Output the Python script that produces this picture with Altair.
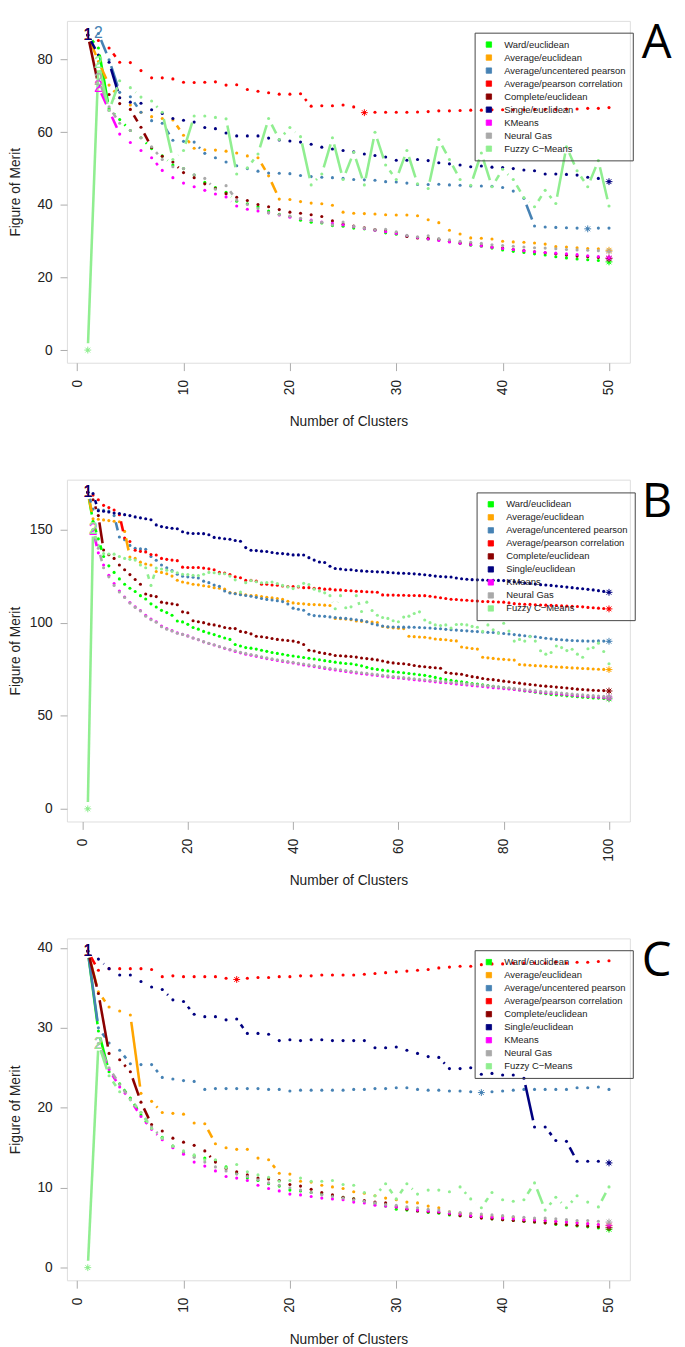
import altair as alt
import pandas as pd

SERIES = ["Ward/euclidean", "Average/euclidean", "Average/uncentered pearson",
          "Average/pearson correlation", "Complete/euclidean", "Single/euclidean",
          "KMeans", "Neural Gas", "Fuzzy C\u2212Means"]
COLORS = ["#00FF00", "#FFA500", "#4682B4", "#FF0000", "#8B0000", "#000080",
          "#FF00FF", "#A9A9A9", "#90EE90"]

# ---------------- Panel A (1..50 clusters) ----------------
A_WARD = [86.8, 83.2, 66.5, 63.5, 60.5, 58.5, 55.5, 53.5, 51.0, 50.0,
          48.2, 46.2, 44.8, 43.5, 41.0, 40.3, 39.5, 38.3, 37.4, 36.8,
          35.8, 35.2, 35.0, 34.3, 34.1, 33.6, 33.4, 33.0, 32.3, 31.9,
          31.4, 31.0, 30.6, 30.3, 29.9, 29.4, 28.9, 28.6, 28.1, 27.6,
          27.2, 26.9, 26.5, 26.2, 25.7, 25.4, 25.1, 24.9, 24.7, 24.3]
A_AVGEUC = [86.8, 79.5, 73.0, 69.5, 67.5, 65.5, 64.3, 63.8, 63.4, 59.2,
            55.6, 55.2, 55.1, 54.8, 54.3, 53.5, 53.0, 48.0, 41.6, 41.5,
            40.9, 40.5, 40.3, 39.9, 38.0, 37.7, 37.6, 37.5, 37.3, 37.2,
            37.2, 37.0, 35.9, 35.1, 33.0, 32.0, 30.9, 30.8, 30.6, 30.0,
            29.8, 29.7, 29.5, 29.2, 28.5, 28.4, 28.2, 28.0, 27.9, 27.5]
A_AVGUNC = [86.8, 87.2, 80.0, 71.0, 69.8, 65.5, 63.2, 62.5, 57.8, 57.5,
            57.3, 54.2, 53.0, 51.8, 50.8, 50.0, 49.3, 48.8, 48.7, 48.6,
            48.1, 47.8, 47.6, 47.5, 47.3, 47.0, 46.9, 46.8, 46.4, 46.3,
            46.0, 45.6, 45.6, 45.7, 45.5, 45.4, 45.2, 45.2, 45.1, 44.8,
            43.8, 41.8, 34.2, 33.9, 33.8, 33.7, 33.6, 33.4, 33.6, 33.6]
A_AVGPEAR = [86.8, 85.3, 83.2, 79.3, 79.2, 77.0, 75.0, 75.0, 74.7, 73.8,
             73.7, 73.8, 73.9, 73.0, 73.1, 71.8, 71.3, 70.9, 70.5, 70.5,
             70.6, 67.2, 67.3, 67.3, 67.5, 67.0, 65.4, 65.5, 65.5, 65.5,
             65.5, 65.6, 65.7, 65.9, 65.9, 66.0, 66.1, 66.1, 66.2, 66.2,
             66.2, 66.2, 66.3, 66.3, 66.3, 66.4, 66.4, 66.6, 66.6, 66.8]
A_COMPLETE = [86.8, 73.0, 70.4, 67.9, 66.3, 61.4, 55.8, 53.4, 51.8, 48.9,
              47.5, 45.8, 44.5, 43.1, 42.1, 41.2, 40.1, 39.5, 38.7, 38.0,
              37.7, 37.3, 36.8, 35.6, 34.7, 34.2, 33.7, 33.2, 32.8, 32.3,
              31.3, 30.9, 30.8, 30.5, 29.9, 29.5, 29.2, 28.8, 28.4, 28.1,
              27.7, 27.4, 27.1, 26.8, 26.5, 26.2, 25.9, 25.7, 25.5, 25.2]
A_SINGLE = [86.8, 81.3, 79.3, 69.5, 68.3, 68.0, 66.2, 65.2, 63.8, 63.3,
            62.8, 61.3, 61.0, 59.8, 59.0, 59.0, 59.0, 58.4, 57.9, 57.6,
            57.3, 56.7, 55.9, 55.4, 55.0, 54.6, 54.0, 53.6, 53.2, 52.3,
            52.3, 52.5, 52.2, 51.6, 51.3, 51.0, 50.5, 50.7, 50.4, 50.3,
            50.0, 49.6, 49.4, 48.5, 48.5, 48.4, 48.2, 47.6, 47.3, 46.4]
A_KMEANS = [None, 72.5, 66.0, 59.5, 57.2, 55.0, 53.0, 49.5, 47.5, 46.0,
            45.0, 44.0, 43.0, 42.2, 39.7, 38.8, 38.3, 37.8, 37.2, 36.6,
            36.2, 35.8, 35.3, 34.9, 34.5, 34.0, 33.5, 33.0, 32.6, 32.1,
            31.5, 31.0, 30.6, 30.2, 29.8, 29.4, 29.0, 28.7, 28.3, 28.0,
            27.7, 27.4, 27.1, 26.9, 26.7, 26.5, 26.3, 26.0, 25.8, 25.4]
A_NG = [None, 74.5, 67.0, 62.5, 60.5, 58.5, 56.0, 52.5, 50.5, 50.0,
        48.3, 47.3, 44.3, 45.3, 41.3, 40.1, 39.0, 37.8, 37.3, 36.9,
        36.3, 35.7, 35.2, 34.5, 35.3, 34.1, 33.6, 33.2, 33.3, 32.6,
        31.6, 31.2, 31.5, 30.7, 30.4, 30.0, 29.7, 29.4, 29.0, 28.8,
        28.6, 28.4, 28.2, 28.1, 27.9, 27.7, 27.6, 27.5, 27.4, 27.2]
A_FCM = [0.0, 79.0, 66.0, 74.2, 72.3, 69.7, 68.6, 65.5, 52.5, 55.0,
         64.5, 64.5, 64.1, 63.7, 48.5, 50.2, 54.0, 63.8, 58.0, 61.3,
         58.8, 45.5, 48.5, 58.5, 47.0, 54.5, 45.5, 60.0, 51.0, 47.0,
         55.0, 45.8, 44.5, 58.0, 52.5, 47.0, 45.4, 54.3, 45.0, 49.8,
         47.0, 42.0, 39.5, 44.0, 40.4, 56.0, 49.4, 45.0, 52.2, 39.7]

# ---------------- Panel B (1..100 clusters) ----------------
B_WARD = [170.0, 154.5, 145.0, 135.5, 130.5, 127.0, 123.5, 120.6, 118.5, 116.7,
          114.5, 112.7, 110.1, 108.4, 106.6, 105.4, 104.0, 100.9, 100.4, 99.1,
          97.4, 96.5, 95.3, 94.4, 93.6, 92.7, 91.8, 91.0, 88.3, 87.5,
          86.6, 86.3, 85.8, 85.2, 84.6, 84.0, 83.5, 83.0, 82.5, 82.1,
          81.7, 81.3, 80.9, 80.5, 80.1, 79.6, 79.2, 78.8, 78.4, 78.1,
          77.9, 77.4, 76.8, 76.0, 75.3, 74.9, 74.5, 74.1, 73.7, 73.4,
          73.1, 72.7, 72.4, 72.0, 71.7, 71.2, 70.6, 70.0, 69.4, 69.0,
          68.6, 68.2, 67.8, 67.3, 67.0, 66.6, 66.2, 65.8, 65.4, 65.1,
          64.7, 64.3, 63.8, 63.3, 63.0, 62.6, 62.2, 61.8, 61.4, 61.2,
          61.0, 60.7, 60.5, 60.2, 60.0, 59.8, 59.6, 59.5, 59.3, 59.1]
B_AVGEUC = [170.0, 155.8, 155.5, 155.2, 154.8, 154.5, 154.2, 149.0, 135.2, 134.5,
            132.5, 131.5, 131.0, 127.5, 127.0, 126.3, 125.0, 122.8, 121.8, 121.3,
            120.6, 120.3, 119.8, 119.4, 118.8, 118.5, 118.0, 116.2, 115.8, 115.3,
            115.0, 114.6, 114.5, 114.0, 113.6, 113.3, 113.0, 112.5, 111.5, 110.6,
            110.3, 110.1, 109.8, 109.7, 109.6, 109.4, 109.2, 102.3, 102.1, 101.9,
            101.6, 100.9, 100.7, 100.5, 100.3, 100.1, 97.9, 97.6, 97.2, 97.0,
            96.8, 92.7, 92.5, 92.3, 92.2, 91.8, 91.2, 91.0, 90.8, 90.4,
            90.2, 86.9, 86.5, 86.1, 85.8, 81.4, 81.1, 80.8, 80.5, 80.3,
            80.1, 79.9, 77.5, 77.3, 77.1, 76.9, 76.8, 76.6, 76.4, 76.2,
            76.1, 75.9, 75.7, 75.6, 75.4, 75.3, 75.1, 75.0, 74.9, 74.8]
B_AVGUNC = [170.0, 161.0, 160.6, 160.3, 159.9, 157.5, 146.0, 144.5, 141.5, 140.0,
            139.6, 139.4, 135.5, 133.5, 131.0, 129.5, 128.0, 126.0, 124.9, 124.6,
            124.4, 124.0, 122.3, 121.5, 120.2, 119.5, 117.0, 115.9, 115.5, 115.0,
            114.6, 114.2, 113.6, 113.0, 112.5, 112.2, 111.8, 111.3, 110.0, 107.8,
            107.2, 106.7, 104.5, 103.8, 103.6, 103.4, 103.1, 102.8, 102.5, 102.3,
            102.0, 101.6, 101.2, 100.5, 99.4, 98.8, 98.2, 97.8, 97.7, 97.7,
            97.6, 97.6, 97.5, 97.4, 97.3, 97.1, 96.9, 96.7, 96.4, 96.2,
            96.0, 95.8, 95.6, 95.4, 95.2, 95.0, 94.8, 94.7, 94.5, 94.2,
            93.9, 93.6, 93.3, 93.0, 92.7, 92.4, 92.0, 91.6, 91.3, 91.0,
            90.8, 90.6, 90.4, 90.3, 90.2, 90.1, 90.1, 90.2, 90.1, 90.0]
B_AVGPEAR = [170.0, 168.5, 166.0, 163.0, 161.8, 160.5, 158.0, 145.5, 143.6, 138.9,
             138.3, 138.0, 136.6, 136.3, 134.5, 134.0, 133.6, 133.3, 129.8, 129.6,
             129.6, 129.6, 129.3, 128.9, 128.4, 127.0, 126.7, 125.8, 124.6, 124.1,
             122.7, 122.7, 122.3, 120.6, 120.6, 120.2, 120.1, 119.7, 119.4, 119.4,
             119.2, 118.8, 118.8, 118.5, 118.5, 118.0, 118.0, 117.6, 117.6, 117.3,
             117.1, 116.9, 116.8, 116.6, 116.5, 116.3, 114.9, 114.8, 114.8, 114.7,
             114.7, 114.6, 114.6, 114.5, 114.5, 114.2, 113.8, 113.4, 113.0, 112.6,
             112.4, 112.2, 112.0, 111.8, 111.6, 111.4, 111.3, 111.2, 111.1, 111.0,
             110.6, 110.2, 110.0, 109.9, 109.8, 109.6, 109.5, 109.4, 109.3, 109.2,
             109.0, 108.9, 108.8, 108.7, 108.5, 108.2, 108.0, 107.8, 107.6, 107.4]
B_COMPLETE = [170.0, 166.0, 157.5, 139.0, 136.5, 134.5, 131.0, 128.4, 125.8, 123.2,
              120.6, 115.4, 114.5, 114.0, 111.0, 110.5, 110.1, 109.6, 105.8, 105.3,
              101.0, 100.5, 100.0, 99.2, 98.8, 98.2, 97.4, 97.0, 96.8, 95.3,
              94.8, 94.0, 92.7, 92.4, 92.0, 91.5, 91.0, 90.7, 90.4, 90.1,
              89.5, 88.3, 85.2, 84.8, 84.0, 83.5, 83.0, 82.4, 82.2, 82.0,
              81.8, 81.5, 81.0, 80.7, 80.4, 80.0, 79.4, 78.8, 78.4, 78.1,
              77.9, 77.5, 77.0, 76.6, 76.3, 76.0, 75.8, 75.5, 73.2, 72.8,
              72.5, 72.3, 71.6, 71.0, 70.6, 70.0, 69.6, 69.4, 69.0, 68.6,
              68.3, 67.9, 67.5, 67.1, 66.8, 66.5, 66.1, 65.9, 65.7, 65.4,
              65.2, 64.9, 64.6, 64.3, 64.1, 63.9, 63.7, 63.6, 63.5, 63.3]
B_SINGLE = [170.0, 169.3, 160.1, 159.8, 159.4, 158.9, 158.6, 158.0, 157.5, 156.8,
            156.3, 155.8, 155.3, 152.5, 151.6, 151.1, 150.7, 150.4, 148.8, 148.1,
            147.9, 147.9, 147.8, 147.2, 145.8, 145.5, 145.1, 144.8, 144.1, 143.7,
            140.3, 138.9, 138.7, 138.4, 138.2, 137.7, 137.3, 137.1, 136.8, 136.4,
            136.4, 136.3, 134.9, 133.6, 132.6, 132.3, 130.3, 129.1, 128.8, 128.4,
            128.4, 128.0, 127.8, 127.6, 127.5, 127.3, 127.2, 127.0, 126.8, 126.6,
            126.5, 126.4, 126.2, 126.0, 125.7, 125.4, 125.0, 124.8, 124.6, 124.5,
            124.0, 123.6, 123.3, 123.1, 123.0, 122.9, 122.8, 122.8, 122.7, 122.6,
            122.3, 122.0, 121.7, 121.3, 121.0, 120.7, 120.4, 120.2, 120.0, 119.7,
            119.4, 119.1, 118.8, 118.5, 118.2, 117.9, 117.6, 117.2, 116.8, 116.3]
B_KMEANS = [None, 149.6, 137.5, 131.0, 125.5, 121.0, 117.0, 113.8, 110.8, 108.5,
            106.5, 104.0, 102.0, 100.5, 98.2, 96.8, 95.7, 94.5, 93.8, 92.9,
            91.8, 90.8, 89.7, 88.8, 88.0, 87.1, 86.2, 85.4, 84.5, 83.8,
            83.1, 82.5, 81.9, 81.3, 80.7, 80.2, 79.7, 79.2, 78.8, 78.3,
            77.8, 77.3, 76.8, 76.4, 75.9, 75.4, 75.0, 74.6, 74.2, 73.8,
            73.4, 73.0, 72.6, 72.3, 71.9, 71.6, 71.2, 70.9, 70.6, 70.3,
            70.0, 69.7, 69.4, 69.1, 68.8, 68.5, 68.2, 67.9, 67.7, 67.4,
            67.1, 66.8, 66.5, 66.2, 66.0, 65.7, 65.4, 65.1, 64.9, 64.6,
            64.4, 64.1, 63.8, 63.5, 63.2, 62.9, 62.6, 62.3, 62.1, 61.8,
            61.6, 61.3, 61.1, 60.8, 60.6, 60.4, 60.2, 60.0, 59.8, 59.6]
B_NG = [None, 150.0, 140.0, 129.5, 124.6, 120.0, 116.5, 113.5, 110.5, 108.2,
        106.3, 103.5, 101.6, 100.2, 97.8, 96.5, 95.5, 94.3, 93.7, 92.8,
        91.8, 90.9, 89.8, 88.9, 88.1, 87.2, 86.4, 85.6, 84.9, 84.1,
        83.5, 82.9, 82.3, 81.7, 81.1, 80.6, 80.1, 79.6, 79.1, 78.7,
        78.2, 77.8, 77.3, 76.9, 76.4, 76.0, 75.5, 75.1, 74.7, 74.3,
        73.9, 73.5, 73.1, 72.8, 72.4, 72.1, 71.7, 71.4, 71.1, 70.8,
        70.5, 70.2, 69.9, 69.6, 69.3, 69.1, 68.8, 68.5, 68.3, 68.0,
        67.7, 67.4, 67.1, 66.9, 66.6, 66.3, 66.1, 65.8, 65.5, 65.2,
        65.0, 64.7, 64.4, 64.1, 63.8, 63.5, 63.2, 62.9, 62.7, 62.4,
        62.2, 61.9, 61.7, 61.4, 61.2, 61.0, 60.8, 60.6, 60.4, 60.2]
B_FCM = [0.0, 150.0, 141.5, 137.1, 136.9, 136.8, 135.5, 134.5, 134.0, 133.6,
         131.0, 129.5, 120.0, 129.3, 128.8, 128.2, 127.5, 126.8, 126.0, 125.8,
         125.5, 125.3, 126.0, 127.0, 126.8, 126.3, 126.3, 125.0, 123.0, 116.5,
         121.5, 122.6, 122.0, 121.4, 121.6, 121.8, 121.0, 120.0, 119.2, 118.3,
         119.5, 121.1, 120.5, 118.0, 117.0, 116.0, 114.5, 107.5, 114.5, 108.0,
         108.5, 114.5, 106.0, 111.0, 106.5, 104.0, 102.8, 102.3, 101.0, 100.5,
         103.0, 103.5, 104.9, 105.8, 101.4, 100.0, 98.8, 98.5, 98.8, 97.1,
         99.0, 99.1, 98.8, 98.0, 97.5, 95.3, 98.8, 96.2, 94.4, 99.7,
         95.5, 90.1, 91.0, 90.1, 92.5, 90.1, 84.9, 83.1, 84.0, 87.5,
         86.6, 85.0, 85.7, 83.1, 81.4, 86.0, 86.6, 89.0, 84.5, 77.9]

# ---------------- Panel C (1..50 clusters) ----------------
C_WARD = [39.6, 29.6, 24.5, 23.0, 21.2, 19.1, 17.4, 16.3, 15.2, 14.4,
          14.0, 13.7, 13.4, 12.6, 11.8, 11.2, 10.9, 10.5, 10.2, 9.7,
          9.6, 9.4, 9.2, 9.0, 8.8, 8.6, 8.3, 8.0, 7.7, 7.3,
          7.2, 7.1, 6.9, 6.8, 6.6, 6.5, 6.4, 6.3, 6.1, 6.0,
          5.9, 5.8, 5.7, 5.6, 5.4, 5.3, 5.2, 5.1, 4.95, 4.8]
C_AVGEUC = [39.6, 34.5, 32.6, 32.1, 31.6, 21.8, 20.8, 19.4, 19.3, 19.2,
            18.1, 18.0, 15.5, 15.0, 14.8, 14.8, 13.7, 13.5, 11.8, 11.7,
            10.8, 10.7, 10.3, 10.1, 9.9, 9.5, 9.3, 9.0, 8.7, 8.5,
            8.2, 8.1, 7.7, 7.5, 7.0, 6.8, 6.7, 6.5, 6.4, 6.4,
            6.3, 6.0, 6.0, 5.9, 5.8, 5.7, 5.6, 5.5, 5.4, 5.25]
C_AVGUNC = [39.6, 30.0, 28.1, 27.2, 25.5, 25.4, 25.4, 23.8, 23.6, 23.4,
            23.3, 22.3, 22.4, 22.4, 22.4, 22.4, 22.4, 22.3, 22.3, 22.1,
            22.2, 22.2, 22.2, 22.2, 22.2, 22.3, 22.3, 22.4, 22.4, 22.5,
            22.5, 22.3, 22.2, 22.2, 22.1, 22.1, 22.0, 21.9, 22.0, 22.1,
            22.2, 22.3, 22.3, 22.3, 22.3, 22.3, 22.5, 22.5, 22.6, 22.3]
C_AVGPEAR = [39.6, 37.2, 37.4, 37.4, 37.4, 37.4, 37.3, 36.4, 36.5, 36.4,
             36.4, 36.4, 36.4, 36.2, 36.05, 36.2, 36.3, 36.3, 36.4, 36.4,
             36.5, 36.5, 36.6, 36.6, 36.6, 36.6, 36.7, 36.8, 36.9, 37.0,
             37.1, 37.2, 37.3, 37.5, 37.6, 37.7, 37.7, 37.9, 38.0, 38.0,
             38.1, 38.1, 38.1, 38.1, 38.2, 38.1, 38.2, 38.2, 38.3, 38.4]
C_COMPLETE = [39.6, 34.3, 26.8, 26.0, 24.5, 20.7, 17.9, 17.1, 16.2, 15.7,
              15.3, 14.6, 13.2, 12.4, 12.0, 11.6, 11.2, 11.1, 10.9, 10.4,
              10.2, 9.8, 9.4, 9.1, 8.8, 8.6, 8.4, 8.2, 8.1, 7.6,
              7.3, 7.1, 7.0, 6.9, 6.7, 6.5, 6.4, 6.2, 6.1, 6.0,
              5.9, 5.8, 5.7, 5.6, 5.5, 5.4, 5.3, 5.2, 5.1, 5.0]
C_SINGLE = [39.6, 38.6, 37.4, 36.6, 36.6, 35.8, 35.1, 34.8, 33.5, 33.3,
            31.7, 31.4, 31.4, 31.0, 31.1, 29.3, 29.3, 29.2, 28.4, 28.5,
            28.4, 28.5, 28.5, 28.4, 28.4, 28.4, 28.4, 27.5, 27.5, 27.6,
            27.2, 26.8, 26.4, 26.3, 24.9, 24.9, 25.0, 24.2, 24.3, 24.1,
            24.1, 23.7, 17.6, 17.6, 15.9, 15.8, 13.3, 13.3, 13.3, 13.1]
C_KMEANS = [None, 28.0, 24.8, 22.6, 21.0, 18.9, 17.3, 16.0, 15.0, 14.2,
            13.2, 12.7, 12.1, 11.4, 11.2, 10.9, 10.3, 9.9, 9.6, 9.2,
            9.1, 8.9, 8.7, 8.6, 8.5, 8.2, 8.1, 7.8, 7.7, 7.6,
            7.4, 7.2, 7.1, 7.0, 6.8, 6.7, 6.5, 6.4, 6.3, 6.2,
            6.1, 6.0, 5.95, 5.9, 5.8, 5.7, 5.6, 5.5, 5.4, 5.3]
C_NG = [None, 28.0, 25.0, 22.9, 21.1, 19.4, 17.6, 16.2, 15.2, 14.5,
        13.8, 13.2, 12.6, 12.1, 11.7, 11.4, 11.0, 10.6, 10.3, 10.0,
        9.7, 9.4, 9.1, 8.9, 8.7, 8.5, 8.3, 8.1, 7.9, 7.8,
        7.6, 7.5, 7.3, 7.2, 7.0, 6.9, 6.8, 6.7, 6.6, 6.5,
        6.4, 6.3, 6.2, 6.2, 6.1, 6.0, 5.9, 5.9, 5.8, 5.7]
C_FCM = [0.0, 28.0, 24.0, 22.0, 21.0, 19.4, 17.4, 16.2, 15.2, 14.6,
         14.1, 13.5, 13.5, 12.5, 12.9, 12.0, 11.6, 11.3, 10.8, 10.9,
         11.2, 10.8, 10.8, 10.9, 10.4, 10.3, 9.4, 9.0, 10.5, 8.6,
         10.5, 9.2, 9.7, 9.7, 9.5, 10.1, 8.6, 7.5, 9.4, 8.5,
         8.3, 8.5, 10.6, 7.2, 8.8, 7.5, 9.0, 8.2, 7.6, 10.1]

A_XTICKS = [0, 10, 20, 30, 40, 50]
B_XTICKS = [0, 20, 40, 60, 80, 100]
C_XTICKS = [0, 10, 20, 30, 40, 50]
A_YTICKS = [0, 20, 40, 60, 80]
B_YTICKS = [0, 50, 100, 150]
C_YTICKS = [0, 10, 20, 30, 40]

PANELS = [
    dict(letter="A", n=50, xticks=A_XTICKS, yticks=A_YTICKS, legend=(415, 12),
         data=[A_WARD, A_AVGEUC, A_AVGUNC, A_AVGPEAR, A_COMPLETE, A_SINGLE, A_KMEANS, A_NG, A_FCM]),
    dict(letter="B", n=100, xticks=B_XTICKS, yticks=B_YTICKS, legend=(417, 13),
         data=[B_WARD, B_AVGEUC, B_AVGUNC, B_AVGPEAR, B_COMPLETE, B_SINGLE, B_KMEANS, B_NG, B_FCM]),
    dict(letter="C", n=50, xticks=C_XTICKS, yticks=C_YTICKS, legend=(415, 12),
         data=[C_WARD, C_AVGEUC, C_AVGUNC, C_AVGPEAR, C_COMPLETE, C_SINGLE, C_KMEANS, C_NG, C_FCM]),
]

W, H = 573, 348
GAP = 7.0
FONT = "Liberation Sans"
TXT = "#222222"
AST = "M-1,0L1,0M0,-1L0,1M-0.7,-0.7L0.7,0.7M-0.7,0.7L0.7,-0.7"


def make_panel(p):
    rows = []
    for i, (name, vals) in enumerate(zip(SERIES, p["data"])):
        for k, v in enumerate(vals, start=1):
            if v is not None:
                rows.append({"series": name, "order": i, "k": k, "v": v})
    df = pd.DataFrame(rows)
    n = p["n"]
    xlo, xhi = 1 - 0.04 * (n - 1), n + 0.04 * (n - 1)
    vmin, vmax = df["v"].min(), df["v"].max()
    r = vmax - vmin
    ylo, yhi = vmin - 0.04 * r, vmax + 0.04 * r
    sx = W / (xhi - xlo)
    sy = H / (yhi - ylo)

    xs = alt.Scale(domain=[xlo, xhi], nice=False, zero=False)
    ys = alt.Scale(domain=[ylo, yhi], nice=False, zero=False)
    cs = alt.Scale(domain=SERIES, range=COLORS)

    xaxis = alt.Axis(values=p["xticks"], labelAngle=270, labelAlign="right",
                     labelBaseline="middle", labelFont=FONT, labelFontSize=14,
                     labelColor=TXT, labelPadding=9, labelFlush=False, labelOverlap=False,
                     tickSize=8, tickColor="#aaaaaa", domain=False, grid=False,
                     title="Number of Clusters", titleFont=FONT, titleFontSize=14,
                     titleFontWeight="normal", titleColor=TXT, titleY=64,
                     titleBaseline="alphabetic")
    yaxis = alt.Axis(values=p["yticks"], labelFont=FONT, labelFontSize=14,
                     labelColor=TXT, labelPadding=8, labelFlush=False, labelOverlap=False,
                     tickSize=7, tickColor="#aaaaaa", domain=False, grid=False,
                     title="Figure of Merit", titleFont=FONT, titleFontSize=14,
                     titleFontWeight="normal", titleColor=TXT, titleX=-45,
                     titleAngle=270, titleBaseline="bottom", titleAlign="center")

    lx, ly = p["legend"]
    legend = alt.Legend(title=None, orient="none", legendX=lx, legendY=ly,
                        symbolType="square", symbolSize=30, symbolStrokeColor="black",
                        symbolStrokeWidth=0.8, symbolOpacity=1, labelFont=FONT,
                        labelFontSize=9.6, labelColor=TXT, rowPadding=2.25,
                        padding=7.3, symbolOffset=2.4, labelOffset=10.8,
                        strokeColor="#444444", labelLimit=300)

    base = alt.Chart(df)
    X = alt.X("k:Q", scale=xs, axis=xaxis)
    Y = alt.Y("v:Q", scale=ys, axis=yaxis)

    pts = base.mark_circle(size=10, opacity=1).encode(
        x=X, y=Y, color=alt.Color("series:N", scale=cs, legend=legend))

    seg = (
        base.transform_window(k2="lead(k)", v2="lead(v)", groupby=["series"],
                              sort=[alt.SortField(field="k", order="ascending")])
        .transform_filter("isValid(datum.k2)")
        .transform_calculate(
            L=f"sqrt(pow((datum.k2-datum.k)*{sx},2)+pow((datum.v2-datum.v)*{sy},2))")
        .transform_filter(f"datum.L > {2 * GAP}")
        .transform_calculate(t=f"{GAP}/datum.L")
        .transform_calculate(
            xa="datum.k+(datum.k2-datum.k)*datum.t",
            xb="datum.k2-(datum.k2-datum.k)*datum.t",
            ya="datum.v+(datum.v2-datum.v)*datum.t",
            yb="datum.v2-(datum.v2-datum.v)*datum.t")
        .mark_rule(strokeWidth=2.6, strokeCap="butt")
        .encode(x=alt.X("xa:Q", scale=xs, axis=xaxis), x2="xb:Q",
                y=alt.Y("ya:Q", scale=ys, axis=yaxis), y2="yb:Q",
                stroke=alt.Stroke("series:N", scale=cs, legend=None))
    )

    ast = (
        base.transform_joinaggregate(vmin="min(v)", groupby=["series"])
        .transform_filter("datum.v == datum.vmin")
        .mark_point(shape=AST, size=49, filled=False, strokeWidth=1, opacity=1)
        .encode(x=X, y=Y, stroke=alt.Stroke("series:N", scale=cs, legend=None))
    )

    lab = (
        base.transform_joinaggregate(vmax="max(v)", groupby=["series"])
        .transform_filter("datum.v == datum.vmax")
        .transform_calculate(lbl="'' + datum.k")
        .mark_text(font=FONT, fontSize=16, align="center", baseline="middle")
        .encode(x=X, y=Y, text="lbl:N",
                fill=alt.Fill("series:N", scale=cs, legend=None))
    )

    letter = alt.Chart(pd.DataFrame({"t": [p["letter"]]})).mark_text(
        font="Open Sans", fontSize=48, align="left", baseline="top", color="black"
    ).encode(text="t:N", x=alt.value(W + 12), y=alt.value(0))

    return alt.layer(pts, seg, ast, lab, letter).properties(width=W, height=H)


chart = (
    alt.vconcat(*[make_panel(p) for p in PANELS], spacing=50,
                padding={"top": 0, "left": 0, "right": 4, "bottom": 0})
    .resolve_scale(color="independent", stroke="independent", fill="independent",
                   x="independent", y="independent")
    .resolve_legend(color="independent")
    .configure_view(stroke="#c8c8c8", strokeWidth=1.2)
    .configure(background="white")
)

chart.save("out.html", embed_options={"renderer": "svg", "actions": False})
